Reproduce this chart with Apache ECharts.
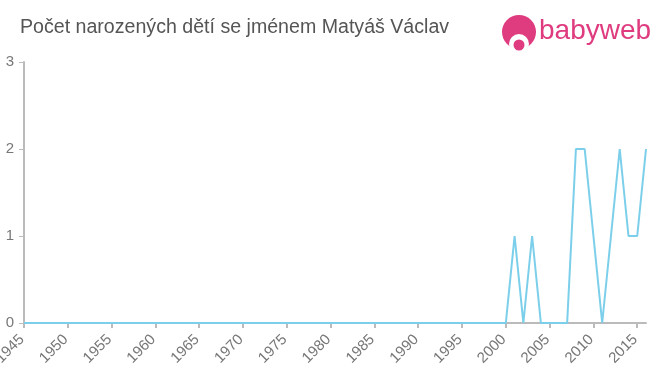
<!DOCTYPE html>
<html><head><meta charset="utf-8">
<script src="https://cdn.jsdelivr.net/npm/echarts@6/dist/echarts.min.js"></script>
<style>html,body{margin:0;padding:0;background:#fff}#c{width:660px;height:375px}</style>
</head><body><div id="c"></div>
<script>
var title = 'Počet narozených dětí se jménem Matyáš Václav';
var years = [1945,1946,1947,1948,1949,1950,1951,1952,1953,1954,1955,1956,1957,1958,1959,1960,1961,1962,1963,1964,1965,1966,1967,1968,1969,1970,1971,1972,1973,1974,1975,1976,1977,1978,1979,1980,1981,1982,1983,1984,1985,1986,1987,1988,1989,1990,1991,1992,1993,1994,1995,1996,1997,1998,1999,2000,2001,2002,2003,2004,2005,2006,2007,2008,2009,2010,2011,2012,2013,2014,2015,2016];
var counts = [0,0,0,0,0,0,0,0,0,0,0,0,0,0,0,0,0,0,0,0,0,0,0,0,0,0,0,0,0,0,0,0,0,0,0,0,0,0,0,0,0,0,0,0,0,0,0,0,0,0,0,0,0,0,0,0,1,0,1,0,0,0,0,2,2,1,0,1,2,1,1,2];
var xTicks = [1945,1950,1955,1960,1965,1970,1975,1980,1985,1990,1995,2000,2005,2010,2015];

var chart = echarts.init(document.getElementById('c'));
chart.setOption({
  animation: false,
  title: {text: title, left: 15, top: 13, textStyle: {fontFamily: 'Liberation Sans, Arial', fontSize: 19.6, fontWeight: 'normal', color: '#555'}},
  grid: {left: 24, right: 14, top: 62, bottom: 52, containLabel: false, outerBoundsMode: 'none'},
  xAxis: {
    type: 'value', min: 1945, max: 2016, interval: 5,
    axisLine: {lineStyle: {color: '#bbb', width: 2}},
    axisTick: {customValues: xTicks, length: 5, lineStyle: {color: '#bbb', width: 2}},
    axisLabel: {customValues: xTicks, rotate: 45, color: '#777', fontSize: 15, fontFamily: 'Liberation Sans, Arial', margin: 12,
      padding: [0, 3, 0, 0],
      formatter: function(v){ return String(v); }},
    splitLine: {show: false}
  },
  yAxis: {
    type: 'value', min: 0, max: 3, interval: 1,
    axisLine: {show: true, lineStyle: {color: '#bbb', width: 2}},
    axisTick: {show: true, length: 5, lineStyle: {color: '#bbb', width: 1}},
    axisLabel: {color: '#777', fontSize: 15, fontFamily: 'Liberation Sans, Arial', margin: 10},
    splitLine: {show: false}
  },
  series: [{
    type: 'line', data: years.map(function(y, i){ return [y, counts[i]]; }),
    symbol: 'none', lineStyle: {color: '#7ccfea', width: 2}, itemStyle: {color: '#7ccfea'}
  }],
  graphic: [
    {type: 'circle', shape: {cx: 519, cy: 32, r: 17}, style: {fill: '#df3b7f'}},
    {type: 'circle', shape: {cx: 519, cy: 44, r: 10}, style: {fill: '#fff'}},
    {type: 'circle', shape: {cx: 519, cy: 45, r: 5.5}, style: {fill: '#df3b7f'}},
    {type: 'text', left: 539, top: 17, style: {text: 'babyweb', fill: '#df3b7f', font: '28px "Liberation Sans", Arial'}}
  ]
});
</script></body></html>
